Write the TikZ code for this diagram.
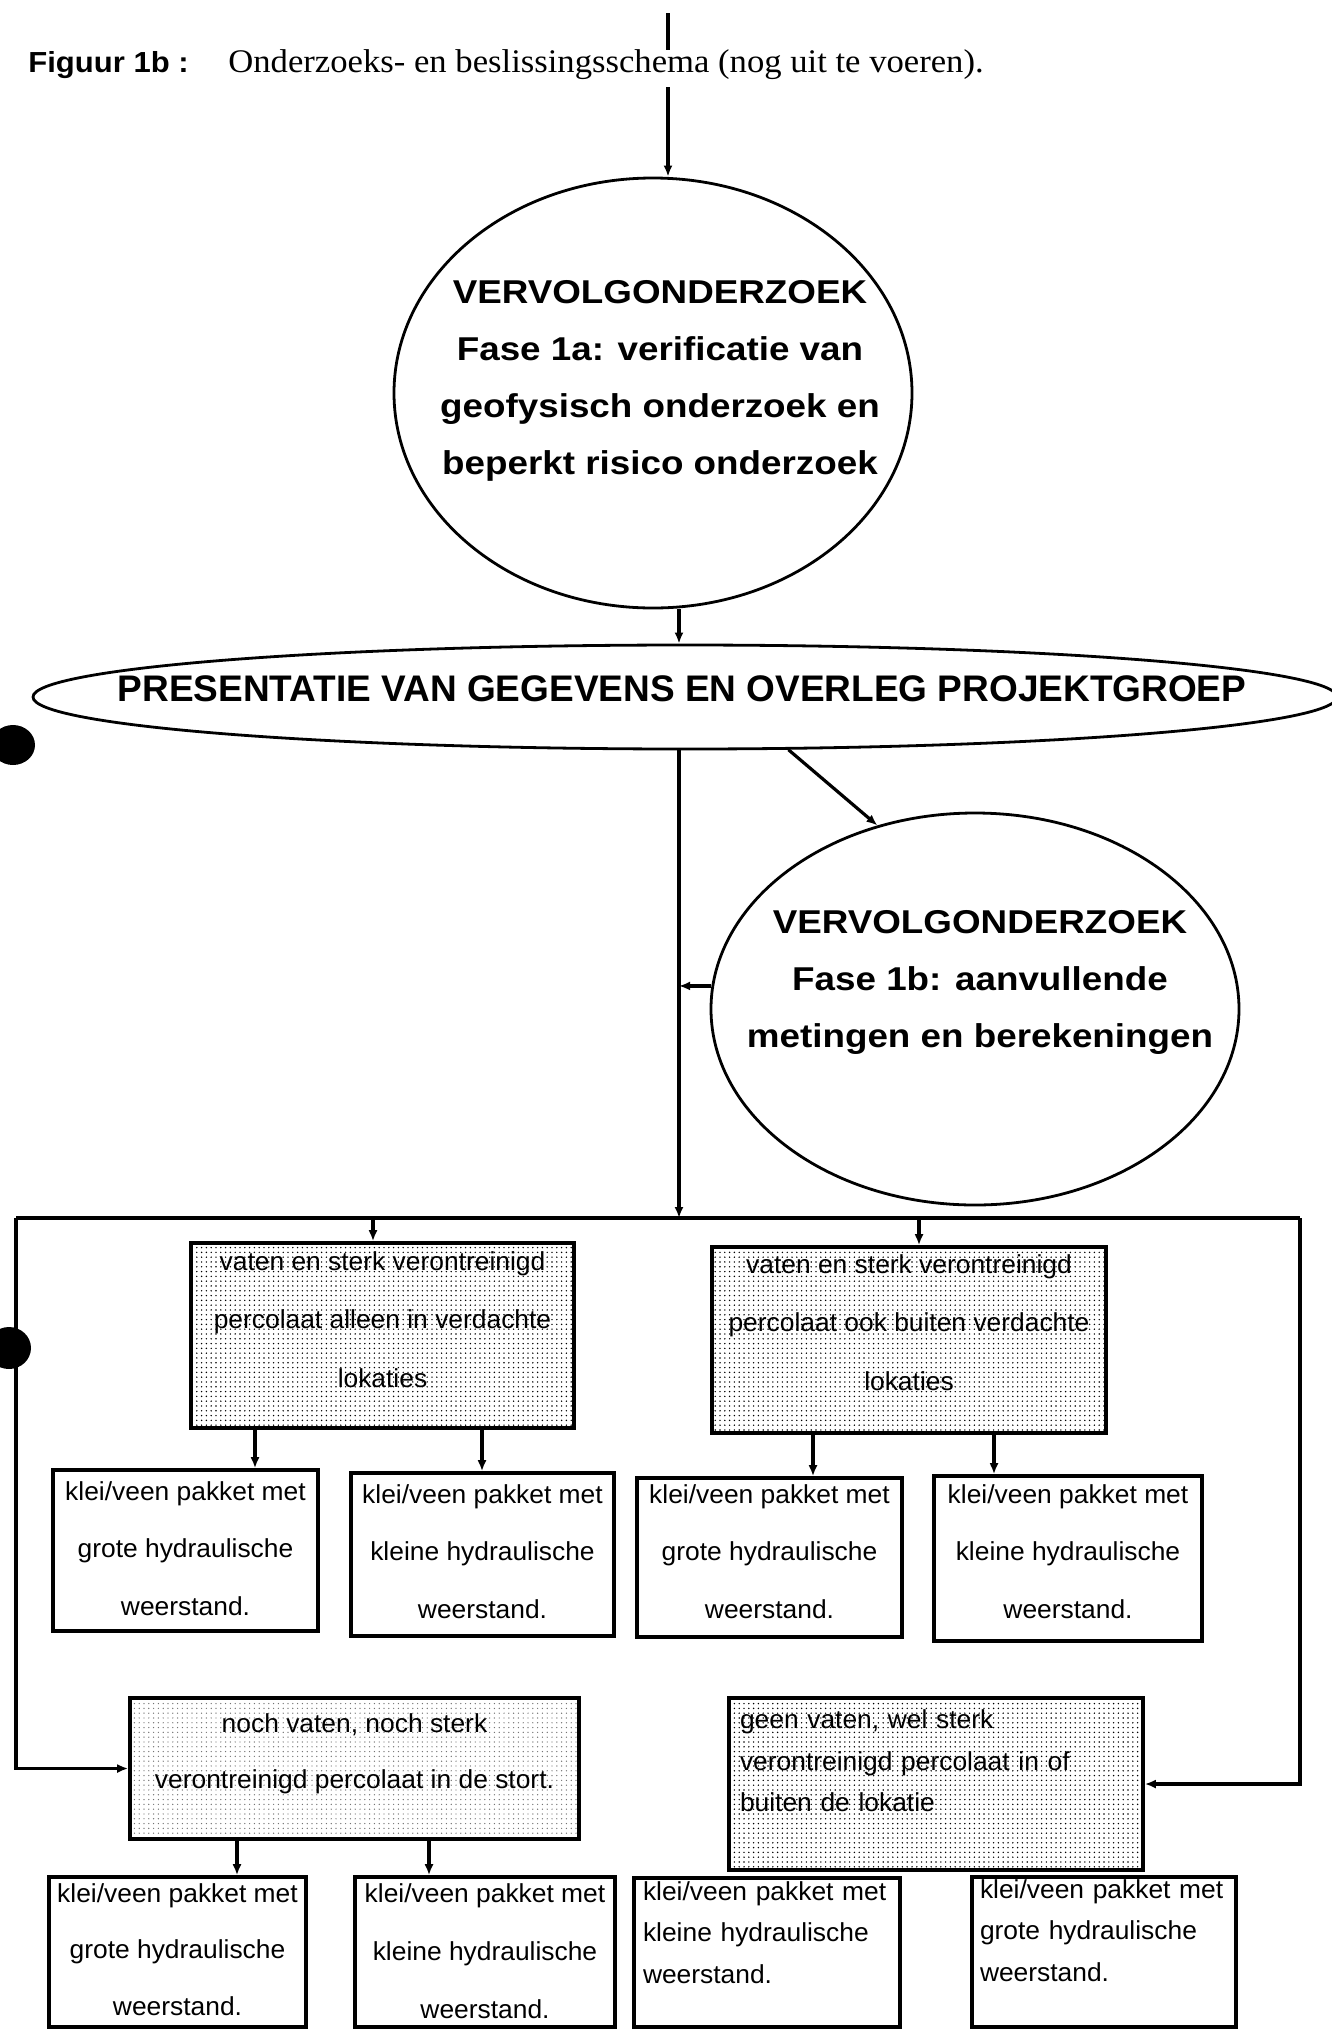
\documentclass[tikz,border=0pt]{standalone}
\usepackage{fontspec}
\setmainfont{Liberation Sans}
\newfontfamily\ellfont[FakeStretch=1.115]{Liberation Sans}
\newfontfamily\presfont{Liberation Sans}
\newfontfamily\boxfont[FakeStretch=1.015]{Liberation Sans}
\newfontfamily\figfont[FakeStretch=1.07]{Liberation Sans}
\newfontfamily\serfont[FakeStretch=1.05]{Liberation Serif}
\usetikzlibrary{shapes.geometric,arrows.meta,patterns.meta}
\newcommand\ts{\rule{0pt}{10pt}}
\newcommand\bs[1]{\rule[-#1]{0pt}{#1}}
\begin{document}
\begin{tikzpicture}[x=0.5pt,y=-0.5pt,
  conn/.style={line width=1.6pt},
  arr/.style={conn,-{Latex[length=5.5pt,width=4.5pt]}},
  ell/.style={ellipse,draw,line width=1.4pt,inner sep=0pt},
  ellt/.style={inner sep=0pt,align=center},
  bx/.style={rectangle,draw,line width=1.8pt,inner sep=0pt,align=center},
  stip/.style={pattern={Dots[distance=2.4pt,radius=0.4pt]}},
  stipl/.style={pattern={Dots[distance=2.4pt,radius=0.35pt]},pattern color=black!55},
  fbig/.style={font={\boxfont\fontsize{13pt}{29.25pt}\selectfont}},
  fmid/.style={font={\boxfont\fontsize{13pt}{28.75pt}\selectfont}},
  fsmall/.style={font={\boxfont\fontsize{13pt}{20.75pt}\selectfont}},
]
\useasboundingbox (0,0) rectangle (1332,2030);
\clip (0,0) rectangle (1332,2030);

% punch holes
\fill (13,745) ellipse [x radius=11pt, y radius=10pt];
\fill (9,1348) ellipse [x radius=11pt, y radius=10.5pt];

% title
\node[anchor=base west,inner sep=0pt,font={\figfont\bfseries\fontsize{14.5pt}{16pt}\selectfont}] (fig) at (28,72) {Figuur 1b :};
\node[anchor=base west,inner sep=0pt,font={\serfont\fontsize{16.5pt}{18pt}\selectfont}] (title) at (228,72) {Onderzoeks- en beslissingsschema (nog uit te voeren).};

% ellipses
\node[ell,minimum width=259pt,minimum height=215pt] (e1) at (653,393) {};
\node[ellt,anchor=north,font={\ellfont\bfseries\fontsize{16.5pt}{28.5pt}\selectfont}] (e1t) at (660,277)
  {\rule{0pt}{13pt}VERVOLGONDERZOEK\\Fase 1a: verificatie van\\geofysisch onderzoek en\\beperkt risico onderzoek};

\node[ell,minimum width=652pt,minimum height=52pt] (e2) at (685,697) {};
\node[anchor=base,inner sep=0pt,font={\presfont\bfseries\fontsize{18.5pt}{20pt}\selectfont}] (e2t) at (682,701)
  {PRESENTATIE VAN GEGEVENS EN OVERLEG PROJEKTGROEP};

\node[ell,minimum width=264pt,minimum height=196pt] (e3) at (975,1009) {};
\node[ellt,anchor=north,font={\ellfont\bfseries\fontsize{16.5pt}{28.5pt}\selectfont}] (e3t) at (980,907)
  {\rule{0pt}{13pt}VERVOLGONDERZOEK\\Fase 1b: aanvullende\\metingen en berekeningen};

% boxes, upper row
\node[bx,stip,fbig,minimum width=191.5pt,minimum height=92.5pt] (boxA) at (382.5,1335.5)
  {\ts vaten en sterk verontreinigd\\percolaat alleen in verdachte\\lokaties\bs{17pt}};
\node[bx,stip,fbig,minimum width=197pt,minimum height=93pt] (boxB) at (909,1340)
  {\ts vaten en sterk verontreinigd\\percolaat ook buiten verdachte\\lokaties\bs{18.5pt}};

\node[bx,fmid,minimum width=132.5pt,minimum height=80.5pt] (boxA1) at (185.5,1550.5)
  {\ts klei/veen pakket met\\grote hydraulische\\weerstand.\bs{3pt}};
\node[bx,fmid,minimum width=131.5pt,minimum height=81.5pt] (boxA2) at (482.5,1554.5)
  {\ts klei/veen pakket met\\kleine hydraulische\\weerstand.\bs{4pt}};
\node[bx,fmid,minimum width=132.5pt,minimum height=79.5pt] (boxB1) at (769.5,1557.5)
  {\ts klei/veen pakket met\\grote hydraulische\\weerstand.\bs{7pt}};
\node[bx,fmid,minimum width=134pt,minimum height=82.5pt] (boxB2) at (1068,1558.5)
  {\ts klei/veen pakket met\\kleine hydraulische\\weerstand.\bs{8pt}};

% boxes, lower row
\node[bx,stipl,font={\boxfont\fontsize{13pt}{28pt}\selectfont},minimum width=224.5pt,minimum height=70.5pt] (boxC) at (354.5,1768.5)
  {\ts noch vaten, noch sterk\\verontreinigd percolaat in de stort.\bs{18.5pt}};
\node[bx,stip,fsmall,align=left,text width=196pt,minimum width=207pt,minimum height=86pt] (boxD) at (936,1784)
  {\noindent\ts geen vaten, wel sterk\\verontreinigd percolaat in of\\buiten de lokatie\bs{24pt}};

\node[bx,font={\boxfont\fontsize{13pt}{28.25pt}\selectfont},minimum width=128.5pt,minimum height=75pt] (boxC1) at (177.5,1952)
  {\ts klei/veen pakket met\\grote hydraulische\\weerstand.\bs{3.5pt}};
\node[bx,font={\boxfont\fontsize{13pt}{29pt}\selectfont},minimum width=130pt,minimum height=75pt] (boxC2) at (485,1952)
  {\ts klei/veen pakket met\\kleine hydraulische\\weerstand.\bs{2pt}};
\node[bx,fsmall,align=left,text width=124pt,minimum width=133pt,minimum height=74.5pt] (boxD1) at (767,1952.5)
  {\noindent\ts klei/veen pakket met\\kleine hydraulische\\weerstand.\bs{21pt}};
\node[bx,fsmall,align=left,text width=124pt,minimum width=132pt,minimum height=75pt] (boxD2) at (1104,1952)
  {\noindent\ts klei/veen pakket met\\grote hydraulische\\weerstand.\bs{22.5pt}};

% helper coordinates
\coordinate (top0) at (668,13);
\coordinate (top1) at (668,50);
\coordinate (top2) at (668,87);
\coordinate (mx) at (679,0);
\coordinate (busL) at (16,1218);
\coordinate (busR) at (1300,1218);
\coordinate (axA) at (373,0);
\coordinate (axB) at (919,0);
\coordinate (a1x) at (255,0);
\coordinate (a2x) at (482,0);
\coordinate (b1x) at (813,0);
\coordinate (b2x) at (994,0);
\coordinate (c1x) at (237,0);
\coordinate (c2x) at (429,0);

% connectors
\draw[conn] (top0) -- (top1);
\draw[arr] (top2) -- (top2 |- e1.north);
\draw[arr] (e1.south -| mx) -- (e2.north -| mx);
\draw[arr] (e2.south -| mx) -- (mx |- busL);
\draw[arr] (e2.-27) -- (e3.118);
\draw[arr] (e3.175) -- (e3.175 -| mx);
\draw[conn] (busL) -- (busR);
\draw[arr] (axA |- busL) -- (axA |- boxA.north);
\draw[arr] (axB |- busL) -- (axB |- boxB.north);
\draw[arr] (busL) |- (boxC.west);
\draw[arr] (busR) |- (boxD.east);
\draw[arr] (boxA.south -| a1x) -- (boxA1.north -| a1x);
\draw[arr] (boxA.south -| a2x) -- (boxA2.north -| a2x);
\draw[arr] (boxB.south -| b1x) -- (boxB1.north -| b1x);
\draw[arr] (boxB.south -| b2x) -- (boxB2.north -| b2x);
\draw[arr] (boxC.south -| c1x) -- (boxC1.north -| c1x);
\draw[arr] (boxC.south -| c2x) -- (boxC2.north -| c2x);
\end{tikzpicture}
\end{document}
